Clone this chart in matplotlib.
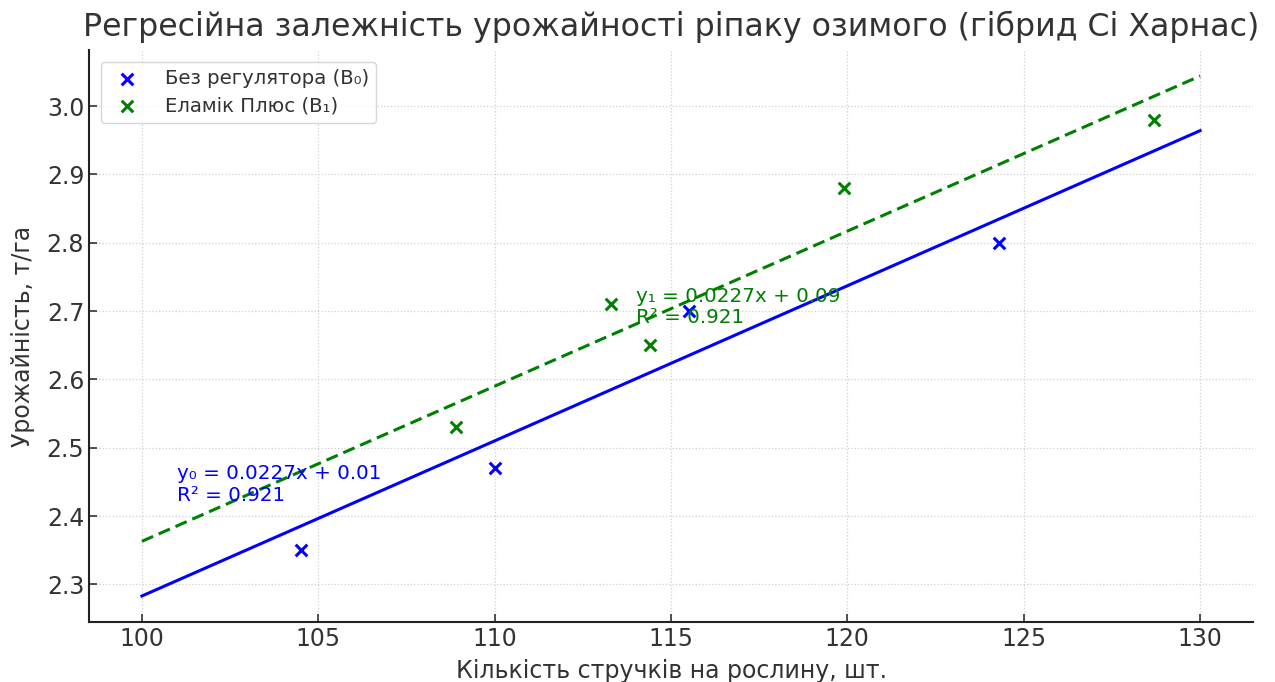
import matplotlib
matplotlib.use("Agg")
import matplotlib.pyplot as plt
import numpy as np

# Data
x_b0 = [104.5, 110.0, 115.5, 124.3]
y_b0 = [2.35, 2.47, 2.70, 2.80]
x_b1 = [108.9, 113.3, 114.4, 119.9, 128.7]
y_b1 = [2.53, 2.71, 2.65, 2.88, 2.98]

slope_b0, intercept_b0 = 0.0227, 0.013
slope_b1, intercept_b1 = 0.0227, 0.093
fit_x_range = [100, 130]

label_b0 = "Без регулятора (B₀)"
label_b1 = "Еламік Плюс (B₁)"
eq_b0 = "y₀ = 0.0227x + 0.01\nR² = 0.921"
eq_b1 = "y₁ = 0.0227x + 0.09\nR² = 0.921"

title = "Регресійна залежність урожайності ріпаку озимого (гібрид Сі Харнас)"
xlabel = "Кількість стручків на рослину, шт."
ylabel = "Урожайність, т/га"

plt.rcParams['font.family'] = ['DejaVu Sans']
txt = '#333333'

fig = plt.figure(figsize=(12.75, 6.82), dpi=100)
ax = fig.add_axes([89/1275, 1-622/682, (1253-89)/1275, (622-50)/682])

ax.scatter(x_b0, y_b0, marker='x', color='blue', s=70, linewidths=2.2, label=label_b0, zorder=3)
ax.scatter(x_b1, y_b1, marker='x', color='green', s=70, linewidths=2.2, label=label_b1, zorder=3)

xs = np.linspace(fit_x_range[0], fit_x_range[1], 100)
ax.plot(xs, slope_b0*xs + intercept_b0, color='blue', lw=2.2, zorder=2)
ax.plot(xs, slope_b1*xs + intercept_b1, color='green', lw=2.2, ls='--', dashes=(4, 2), zorder=2)

ax.text(101, 2.446, eq_b0, color='blue', fontsize=14.3, va='center', ha='left', linespacing=1.15)
ax.text(114, 2.706, eq_b1, color='green', fontsize=14.3, va='center', ha='left', linespacing=1.15)

ax.set_title(title, fontsize=22.8, color=txt, pad=10)
ax.set_xlabel(xlabel, fontsize=17, color=txt, labelpad=6)
ax.set_ylabel(ylabel, fontsize=17, color=txt, labelpad=8)

ax.set_xticks([100, 105, 110, 115, 120, 125, 130])
ax.set_yticks([2.3, 2.4, 2.5, 2.6, 2.7, 2.8, 2.9, 3.0])
ax.tick_params(direction='in', labelsize=17, colors=txt, length=6, width=1.2)
ax.grid(True, ls=':', color='#d0d0d0', lw=0.9)
for s in ['top', 'right']:
    ax.spines[s].set_visible(False)
for s in ['left', 'bottom']:
    ax.spines[s].set_color('#222222')
    ax.spines[s].set_linewidth(1.5)

leg = ax.legend(loc='upper left', fontsize=14.2, frameon=True, borderpad=0.35,
                handletextpad=0.9, labelspacing=0.45, borderaxespad=0.6)
for t in leg.get_texts():
    t.set_color(txt)

fig.savefig('out.png', dpi=100)
